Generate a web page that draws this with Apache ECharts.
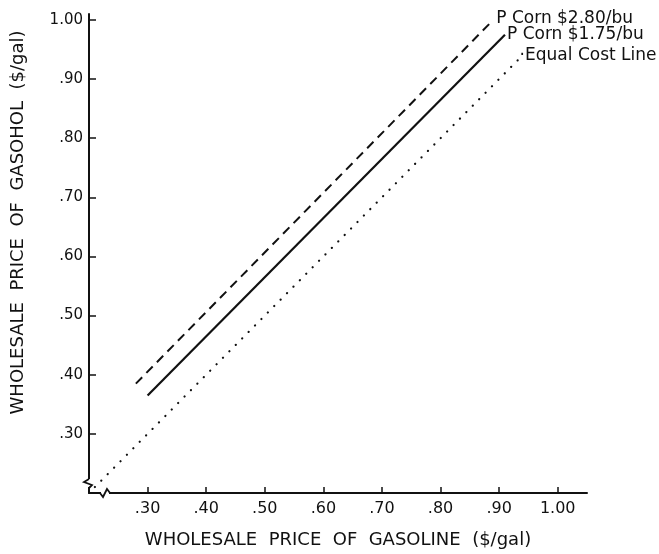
<!DOCTYPE html>
<html>
<head>
<meta charset="utf-8">
<script src="https://cdn.jsdelivr.net/npm/echarts@6/dist/echarts.min.js"></script>
<style>
html,body{margin:0;padding:0;background:#fff;}
#chart{width:659px;height:554px;}
</style>
</head>
<body>
<div id="chart"></div>
<script>
// ---- data ----
const xTicks = [0.30, 0.40, 0.50, 0.60, 0.70, 0.80, 0.90, 1.00];
const yTicks = [0.30, 0.40, 0.50, 0.60, 0.70, 0.80, 0.90, 1.00];
const seriesNames = ['P Corn $2.80/bu', 'P Corn $1.75/bu', 'Equal Cost Line'];
const cornHighX = [0.28, 0.89];
const cornHighY = [0.385, 1.00];
const cornLowX = [0.30, 0.91];
const cornLowY = [0.365, 0.975];
const equalX = [0.21, 0.935];
const equalY = [0.21, 0.935];

const pairs = (xs, ys) => xs.map((x, i) => [x, ys[i]]);
const fmt = v => { const s = v.toFixed(2); return v >= 1 ? s : s.slice(1); };
const FONT = 'DejaVu Sans';
const INK = '#111';

const chart = echarts.init(document.getElementById('chart'), null, {renderer: 'canvas'});

const option = {
  backgroundColor: '#fff',
  animation: false,
  grid: {left: 89, right: 72, top: 14, bottom: 61, containLabel: false},
  xAxis: {
    type: 'value', min: 0.2, max: 1.05, interval: 0.1,
    name: 'WHOLESALE  PRICE  OF  GASOLINE  ($/gal)',
    nameLocation: 'middle', nameGap: 38,
    nameTextStyle: {fontFamily: FONT, fontSize: 18, color: INK},
    axisLine: {lineStyle: {color: INK, width: 2}},
    axisTick: {inside: true, length: 6, lineStyle: {color: INK, width: 1.5}, customValues: xTicks},
    axisLabel: {fontFamily: FONT, fontSize: 16, color: INK, margin: 8, customValues: xTicks, formatter: fmt},
    splitLine: {show: false}
  },
  yAxis: {
    type: 'value', min: 0.2, max: 1.01, interval: 0.1,
    name: 'WHOLESALE  PRICE  OF  GASOHOL  ($/gal)',
    nameLocation: 'middle', nameGap: 62, nameRotate: 90,
    nameTextStyle: {fontFamily: FONT, fontSize: 18, color: INK, padding: [0, 0, 0, 62]},
    axisLine: {lineStyle: {color: INK, width: 2}},
    axisTick: {inside: true, length: 7, lineStyle: {color: INK, width: 1.5}, customValues: yTicks},
    axisLabel: {fontFamily: FONT, fontSize: 15, color: INK, margin: 6, customValues: yTicks, formatter: fmt},
    splitLine: {show: false}
  },
  series: [
    {
      name: seriesNames[0], type: 'line', data: pairs(cornHighX, cornHighY),
      symbol: 'none', lineStyle: {color: INK, width: 2, type: [9, 6]},
      endLabel: {show: true, formatter: seriesNames[0], fontFamily: FONT, fontSize: 17, color: INK, distance: 3, offset: [0, -1]}
    },
    {
      name: seriesNames[1], type: 'line', data: pairs(cornLowX, cornLowY),
      symbol: 'none', lineStyle: {color: INK, width: 2.2},
      endLabel: {show: true, formatter: seriesNames[1], fontFamily: FONT, fontSize: 17, color: INK, distance: 2, offset: [0, 0]}
    },
    {
      name: seriesNames[2], type: 'line', data: pairs(equalX, equalY),
      symbol: 'none', lineStyle: {color: INK, width: 2.2, type: [0.1, 9], cap: 'round'},
      endLabel: {show: true, formatter: '·' + seriesNames[2], fontFamily: FONT, fontSize: 17, color: INK, distance: 0, offset: [0, -3]}
    }
  ]
};
chart.setOption(option);

// axis-break zigzags near the origin (decoration only)
const o = chart.convertToPixel({gridIndex: 0}, [0.2, 0.2]);
const yb = o[1] - 10, xb = o[0] + 16;
chart.setOption({
  graphic: [
    {type: 'rect', shape: {x: o[0] - 2, y: yb - 4, width: 4, height: 8}, style: {fill: '#fff'}, z: 100},
    {type: 'polyline', shape: {points: [[o[0], yb - 4], [o[0] - 5, yb - 1], [o[0] + 3, yb + 2], [o[0], yb + 5]]},
      style: {stroke: INK, lineWidth: 1.8, fill: null}, z: 101},
    {type: 'rect', shape: {x: xb - 4, y: o[1] - 2, width: 8, height: 4}, style: {fill: '#fff'}, z: 100},
    {type: 'polyline', shape: {points: [[xb - 5, o[1]], [xb - 2, o[1] + 4], [xb + 2, o[1] - 4], [xb + 5, o[1]]]},
      style: {stroke: INK, lineWidth: 1.8, fill: null}, z: 101}
  ]
});
</script>
</body>
</html>
